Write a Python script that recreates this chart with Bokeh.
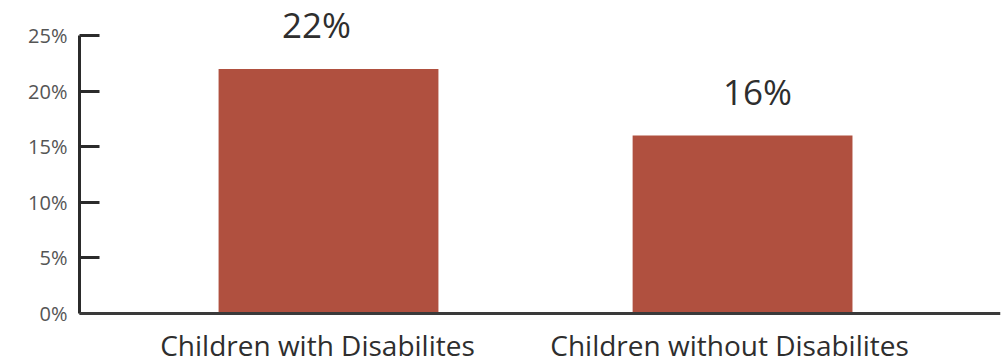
from bokeh.plotting import figure
from bokeh.models import Range1d, FixedTicker, ColumnDataSource, LabelSet, Span
from bokeh.core.properties import value
from bokeh.embed import file_html
from bokeh.resources import INLINE

categories = ["Children with Disabilites", "Children without Disabilites"]
values = [22, 16]
bar_labels = ["22%", "16%"]
y_ticks = [0, 5, 10, 15, 20, 25]
y_tick_labels = ["0%", "5%", "10%", "15%", "20%", "25%"]

x_pos = [i + 0.5 for i in range(len(categories))]

src = ColumnDataSource(dict(x=x_pos, top=values, lbl=bar_labels, cat=categories,
                            lbl_dx=[-12, 15], cat_dx=[-11, -13], zero=[0, 0]))

p = figure(width=1001, height=364, output_backend="svg", toolbar_location=None,
           x_range=Range1d(-0.1014, 2.123), y_range=Range1d(-4.586, 28.15),
           x_axis_location=None,
           min_border_left=79, min_border_right=1, min_border_top=0, min_border_bottom=0,
           background_fill_color="white", border_fill_color="white", outline_line_color=None)

p.vbar(x="x", top="top", width=0.531, bottom=0, source=src,
       fill_color="#b0503f", line_color=None)

p.xgrid.visible = False
p.ygrid.visible = False

# y axis
ya = p.yaxis[0]
ya.ticker = FixedTicker(ticks=y_ticks)
ya.major_label_overrides = {t: l for t, l in zip(y_ticks, y_tick_labels)}
ya.bounds = (y_ticks[0], y_ticks[-1])
ya.axis_line_color = "#2b2b2b"
ya.axis_line_width = 3
ya.major_tick_in = 20
ya.major_tick_out = 0
ya.major_tick_line_color = "#2b2b2b"
ya.major_tick_line_width = 3
ya.minor_tick_line_color = None
ya.major_label_text_font = "Open Sans"
ya.major_label_text_font_size = "20px"
ya.major_label_text_color = "#555555"
ya.major_label_standoff = 12

# baseline (x axis line)
p.add_layout(Span(location=0, dimension="width", line_color="#3a3a3a", line_width=3))

# category labels under the baseline
p.text(x="x", y="zero", text="cat", source=src, x_offset="cat_dx", y_offset=31,
       text_align="center", text_baseline="alphabetic",
       text_font=value("Open Sans"), text_font_size="28px", text_color="#2e2e2e")

# value labels above bars
p.add_layout(LabelSet(x="x", y="top", text="lbl", source=src, x_offset="lbl_dx", y_offset=31,
                      text_align="center", text_baseline="alphabetic",
                      text_font=value("Open Sans"), text_font_size="35px", text_color="#2e2e2e"))

open("out.html", "w").write(file_html(p, INLINE))
